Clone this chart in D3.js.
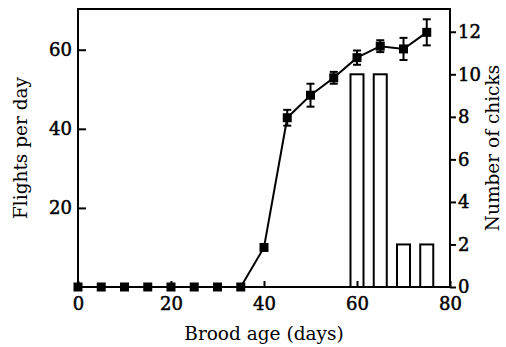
<!DOCTYPE html>
<html>
<head>
<meta charset="utf-8">
<script src="https://cdn.jsdelivr.net/npm/d3@7"></script>
<style>
  html, body { margin: 0; padding: 0; background: #fff; }
  svg text { font-family: "DejaVu Serif", "Liberation Serif", serif; fill: #000; }
</style>
</head>
<body>
<div id="chart"></div>
<script>
// 資料：雛鳥日齡、每日飛行次數、標準誤
const ages = [0, 5, 10, 15, 20, 25, 30, 35, 40, 45, 50, 55, 60, 65, 70, 75];
const flights = [0, 0, 0, 0, 0, 0, 0, 0, 10, 42.8, 48.5, 52.9, 58.0, 60.9, 60.2, 64.4];
const flightErr = [0, 0, 0, 0, 0, 0, 0, 0, 0, 2.0, 2.9, 1.5, 1.8, 1.5, 2.8, 3.3];

// 柱狀圖：雛鳥數量
const chickAges = [60, 65, 70, 75];
const chickCounts = [10, 10, 2, 2];

// 刻度
const xTicks = [0, 20, 40, 60, 80];
const leftTicks = [20, 40, 60];
const rightTicks = [0, 2, 4, 6, 8, 10, 12];

const width = 506, height = 347;
const margin = { top: 9, right: 56, bottom: 60, left: 78 };
const plotW = width - margin.left - margin.right;
const plotH = height - margin.top - margin.bottom;

const svg = d3.select('#chart')
    .append('svg')
    .attr('width', width)
    .attr('height', height);

svg.append('rect').attr('width', width).attr('height', height).attr('fill', '#fff');

const g = svg.append('g')
    .attr('transform', `translate(${margin.left}, ${margin.top})`);

// 比例尺
const x = d3.scaleLinear().domain([0, 80]).range([0, plotW]);
const yL = d3.scaleLinear().domain([0, 70.3]).range([plotH, 0]);
const yR = d3.scaleLinear().domain([0, 13.07]).range([plotH, 0]);

const barDays = 2.8; // 柱寬（天）

// 柱子
g.selectAll('.bar')
    .data(chickAges.map((a, i) => ({ age: a, n: chickCounts[i] })))
    .enter()
    .append('rect')
    .attr('class', 'bar')
    .attr('x', d => x(d.age - barDays / 2))
    .attr('y', d => yR(d.n))
    .attr('width', x(barDays) - x(0))
    .attr('height', d => yR(0) - yR(d.n))
    .attr('fill', '#fff')
    .attr('stroke', '#000')
    .attr('stroke-width', 2);

// 外框
g.append('rect')
    .attr('width', plotW)
    .attr('height', plotH)
    .attr('fill', 'none')
    .attr('stroke', '#000')
    .attr('stroke-width', 2);

// 軸
const fontSize = '18px';
const xAxis = g.append('g')
    .attr('transform', `translate(0, ${plotH})`)
    .call(d3.axisBottom(x).tickValues(xTicks).tickSizeInner(-6).tickSizeOuter(0).tickPadding(10));
const leftAxis = g.append('g')
    .call(d3.axisLeft(yL).tickValues(leftTicks).tickSizeInner(-8).tickSizeOuter(0).tickPadding(6));
const rightAxis = g.append('g')
    .attr('transform', `translate(${plotW}, 0)`)
    .call(d3.axisRight(yR).tickValues(rightTicks).tickSizeInner(6).tickSizeOuter(0).tickPadding(2));

[xAxis, leftAxis, rightAxis].forEach(a => {
    a.select('.domain').remove();
    a.selectAll('line').attr('stroke', '#000').attr('stroke-width', 2);
    a.selectAll('text')
        .attr('font-size', fontSize)
        .attr('font-family', null)
        .attr('stroke', '#000')
        .attr('stroke-width', 0.5);
});

// 誤差線
const pts = ages.map((a, i) => ({ age: a, v: flights[i], e: flightErr[i] }));
const errPts = pts.filter(d => d.e > 0);
const cap = 4;
const eb = g.append('g').attr('stroke', '#000').attr('stroke-width', 2);
eb.selectAll('.ev').data(errPts).enter().append('line')
    .attr('x1', d => x(d.age)).attr('x2', d => x(d.age))
    .attr('y1', d => yL(d.v - d.e)).attr('y2', d => yL(d.v + d.e));
eb.selectAll('.et').data(errPts).enter().append('line')
    .attr('x1', d => x(d.age) - cap).attr('x2', d => x(d.age) + cap)
    .attr('y1', d => yL(d.v + d.e)).attr('y2', d => yL(d.v + d.e));
eb.selectAll('.eb').data(errPts).enter().append('line')
    .attr('x1', d => x(d.age) - cap).attr('x2', d => x(d.age) + cap)
    .attr('y1', d => yL(d.v - d.e)).attr('y2', d => yL(d.v - d.e));

// 折線
const line = d3.line().x(d => x(d.age)).y(d => yL(d.v));
g.append('path')
    .datum(pts)
    .attr('d', line)
    .attr('fill', 'none')
    .attr('stroke', '#000')
    .attr('stroke-width', 2);

// 方形標記
const ms = 9;
g.selectAll('.pt')
    .data(pts)
    .enter()
    .append('rect')
    .attr('x', d => x(d.age) - ms / 2)
    .attr('y', d => yL(d.v) - ms / 2)
    .attr('width', ms)
    .attr('height', ms)
    .attr('fill', '#000');

// 軸標題
const titleSize = '18.5px';
svg.append('text')
    .attr('x', margin.left + plotW / 2)
    .attr('y', 340)
    .attr('text-anchor', 'middle')
    .attr('font-size', titleSize)
    .text('Brood age (days)');

svg.append('text')
    .attr('transform', `translate(27, ${margin.top + plotH / 2}) rotate(-90)`)
    .attr('text-anchor', 'middle')
    .attr('font-size', titleSize)
    .text('Flights per day');

svg.append('text')
    .attr('transform', `translate(499, ${margin.top + plotH / 2}) rotate(-90)`)
    .attr('text-anchor', 'middle')
    .attr('font-size', titleSize)
    .text('Number of chicks');
</script>
</body>
</html>
